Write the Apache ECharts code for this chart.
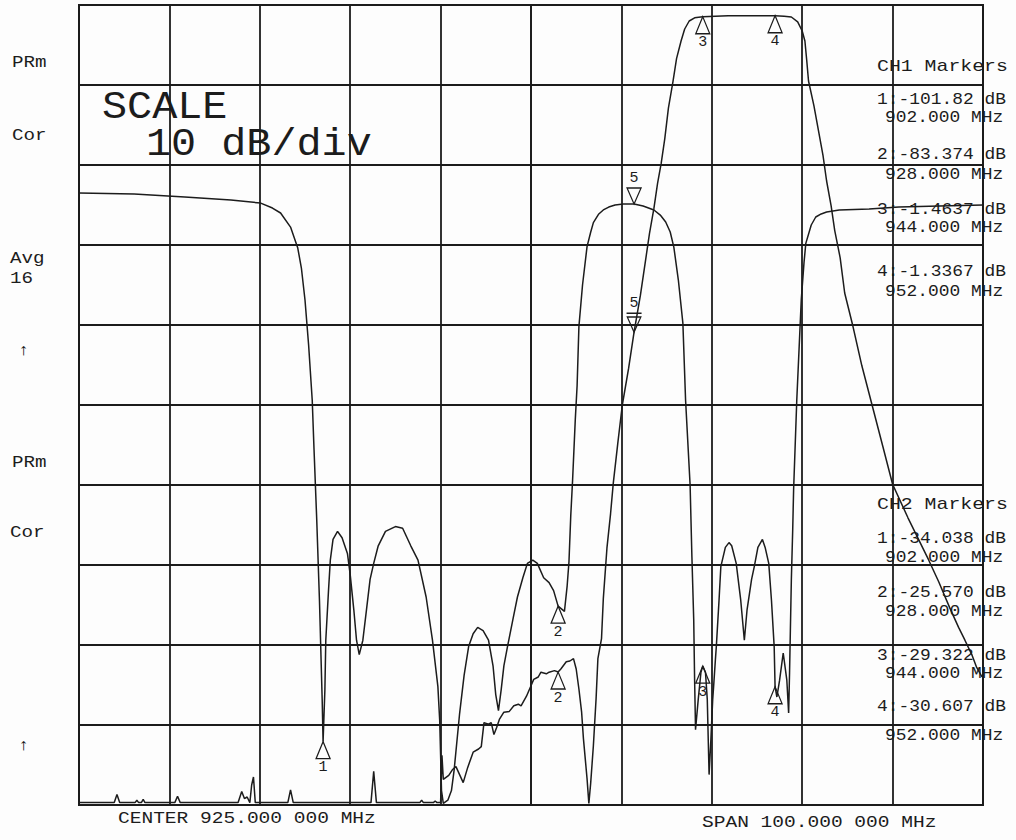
<!DOCTYPE html>
<html><head><meta charset="utf-8">
<script src="https://cdn.jsdelivr.net/npm/echarts@6/dist/echarts.min.js"></script>
<style>html,body{margin:0;padding:0;background:#fdfdfd}#c{width:1016px;height:840px}</style>
</head><body><div id="c"></div>
<script>
// Analyzer setup
const CENTER_MHZ = 925;
const SPAN_MHZ = 100;
const CH1_RANGE = [-100, 0];   // 10 dB/div, ref 0 dB at top
const CH2_RANGE = [-38, 12];   // 5 dB/div, ref -18 dB at 4th div from bottom

// CH1 trace [MHz, dB]
const ch1Trace = [
[875.0,-99.7],[878.9,-99.7],[879.2,-98.7],[879.5,-99.7],[881.2,-99.7],[881.4,-99.4],[881.6,-99.7],
[881.9,-99.7],[882.1,-99.3],[882.3,-99.7],[885.6,-99.7],[885.9,-98.9],[886.2,-99.7],
[892.6,-99.7],[893.0,-98.3],[893.3,-99.2],[893.6,-99.0],[893.9,-99.7],[894.1,-97.5],[894.3,-96.5],[894.5,-99.7],
[898.1,-99.7],[898.4,-98.1],[898.7,-99.7],[907.3,-99.7],[907.6,-95.8],[907.9,-99.7],
[912.7,-99.7],[912.9,-99.4],[913.1,-99.7],[914.2,-99.7],[914.4,-99.5],[914.6,-99.7],
[915.0,-99.7],[915.15,-93.8],[915.3,-96.8],[915.9,-96.3],[916.3,-95.6],[916.7,-95.2],[917.1,-96.2],[917.5,-97.2],
[918.0,-95.3],[918.6,-93.4],[919.2,-93.0],[919.5,-92.7],[919.8,-89.7],[920.3,-89.9],[920.6,-89.7],[920.9,-91.2],
[921.2,-90.3],[921.5,-89.3],[922.0,-88.4],[922.6,-88.3],[923.1,-87.6],[923.6,-87.4],[923.9,-87.6],[924.5,-86.4],
[925.0,-85.1],[925.3,-84.3],[925.8,-84.0],[926.1,-83.4],[926.7,-83.6],[927.0,-83.4],[927.6,-83.2],[928.0,-83.374],
[928.3,-83.0],[928.9,-82.1],[929.3,-82.0],[929.7,-81.7],[930.0,-83.0],[930.3,-85.5],[930.6,-88.4],[930.8,-91.7],
[931.2,-96.7],[931.4,-99.8],[931.6,-97.3],[931.9,-92.6],[932.2,-86.7],[932.4,-81.7],[932.8,-79.2],[933.0,-74.2],
[933.4,-67.9],[933.8,-63.6],[934.1,-59.8],[934.6,-54.8],[935.1,-50.0],[935.8,-45.4],[936.4,-40.9],[937.1,-36.3],
[937.7,-31.7],[938.1,-28.6],[938.6,-25.4],[939.0,-22.3],[939.4,-19.8],[939.8,-16.7],[940.2,-12.9],[940.7,-9.6],
[941.1,-6.7],[941.6,-4.5],[942.0,-3.0],[942.5,-2.0],[943.1,-1.6],[944.0,-1.4637],[946.8,-1.35],[950.1,-1.33],
[952.0,-1.3367],[953.0,-1.4],[953.8,-1.5],[954.5,-2.1],[955.0,-3.25],[955.3,-4.5],[955.5,-6.9],[955.7,-9.5],
[956.3,-12.6],[956.8,-15.7],[957.3,-18.8],[957.7,-22.0],[958.2,-25.1],[958.6,-28.2],[959.2,-31.6],[959.7,-36.0],
[960.6,-40.1],[961.6,-45.1],[962.75,-50.1],[963.9,-55.1],[965.0,-59.9],[966.7,-64.1],[969.0,-69.4],[970.1,-72.1],
[971.3,-75.3],[972.3,-77.8],[973.0,-79.4],[973.8,-81.3],[974.3,-82.8],[974.9,-84.0]
];

// CH2 trace [MHz, dB]
const ch2Trace = [
[875.0,0.25],[881.1,0.19],[886.7,0.0],[891.8,-0.19],[895.1,-0.38],[896.4,-0.69],[897.3,-1.0],[898.4,-1.88],
[899.2,-3.19],[899.6,-4.44],[900.0,-6.44],[900.4,-9.25],[900.8,-12.7],[901.0,-15.8],[901.3,-20.2],[901.6,-25.2],
[901.9,-31.4],[902.0,-34.038],[902.2,-30.8],[902.3,-27.7],[902.6,-24.6],[902.8,-22.7],[903.1,-21.4],[903.6,-20.9],
[904.1,-21.3],[904.7,-22.3],[905.0,-23.6],[905.4,-25.8],[905.7,-27.7],[906.0,-28.6],[906.4,-27.7],[906.8,-25.8],
[907.2,-23.9],[907.6,-22.9],[908.1,-21.8],[908.9,-20.9],[910.0,-20.6],[910.8,-20.7],[911.7,-21.8],[912.5,-22.7],
[913.4,-25.0],[914.1,-27.7],[914.7,-30.6],[914.9,-32.7],[915.1,-37.1],[915.3,-37.9],[915.8,-37.7],[916.2,-37.1],
[916.5,-35.8],[917.1,-32.3],[917.6,-29.9],[918.1,-28.1],[918.6,-27.3],[919.1,-26.9],[919.7,-27.1],[920.3,-27.7],
[920.8,-29.3],[921.1,-31.1],[921.4,-32.1],[921.7,-30.8],[922.0,-29.3],[922.4,-28.1],[923.0,-26.4],[923.5,-25.0],
[924.1,-23.8],[924.6,-22.9],[925.2,-22.7],[925.7,-22.9],[926.4,-23.8],[927.0,-24.1],[927.5,-24.6],[928.0,-25.57],
[928.7,-25.9],[929.0,-24.3],[929.2,-22.8],[929.4,-19.9],[929.6,-17.7],[929.9,-13.9],[930.1,-11.8],[930.3,-8.1],
[930.7,-5.5],[931.2,-3.1],[931.6,-2.2],[931.9,-1.6],[932.5,-1.06],[933.0,-0.81],[933.6,-0.63],[934.3,-0.5],
[935.2,-0.44],[936.4,-0.44],[937.4,-0.56],[938.6,-0.81],[939.3,-1.13],[939.9,-1.56],[940.4,-2.19],[940.8,-3.13],
[941.3,-5.19],[941.8,-7.88],[942.1,-12.7],[942.6,-18.0],[942.8,-22.5],[943.0,-26.4],[943.1,-30.2],[943.2,-33.3],
[943.5,-31.4],[943.8,-29.7],[944.0,-29.322],[944.3,-29.7],[944.5,-31.4],[944.7,-36.1],[944.9,-33.9],[945.1,-31.4],
[945.2,-30.6],[945.4,-28.9],[945.5,-28.1],[945.8,-25.2],[946.0,-23.1],[946.5,-21.9],[946.9,-21.6],[947.2,-21.8],
[947.7,-22.9],[948.2,-25.2],[948.6,-27.7],[948.9,-25.8],[949.4,-23.9],[949.7,-23.1],[950.1,-21.9],[950.6,-21.4],
[950.9,-21.9],[951.3,-22.9],[951.6,-25.2],[951.9,-28.1],[952.0,-30.607],[952.2,-31.25],[952.5,-30.2],[952.9,-28.5],
[953.3,-30.2],[953.5,-32.25],[953.6,-29.75],[953.8,-23.9],[953.95,-20.8],[954.05,-18.3],[954.4,-12.7],[954.9,-6.4],
[955.2,-4.1],[955.4,-2.9],[956.0,-1.75],[956.5,-1.25],[957.1,-1.06],[957.7,-0.94],[959.1,-0.81],[962.4,-0.75],
[965.7,-0.63],[970.2,-0.56],[975.0,-0.5]
];

// Markers
const ch1MarkerNames = ['2','3','4'];
const ch1MarkerFreq  = [928, 944, 952];
const ch1MarkerDb    = [-83.374, -1.4637, -1.3367];
const ch1Marker5     = [936.4, -40.9];
const ch2MarkerNames = ['1','2','3','4'];
const ch2MarkerFreq  = [902, 928, 944, 952];
const ch2MarkerDb    = [-34.038, -25.570, -29.322, -30.607];
const ch2Marker5     = [936.4, -0.44];

// Readout texts
const ch1Readout = ['CH1 Markers','1:-101.82 dB','902.000 MHz','2:-83.374 dB','928.000 MHz','3:-1.4637 dB','944.000 MHz','4:-1.3367 dB','952.000 MHz'];
const ch2Readout = ['CH2 Markers','1:-34.038 dB','902.000 MHz','2:-25.570 dB','928.000 MHz','3:-29.322 dB','944.000 MHz','4:-30.607 dB','952.000 MHz'];
const leftLabels = ['PRm','Cor','Avg','16','↑','PRm','Cor','↑'];
const scaleText = ['SCALE', '10 dB/div'];
const centerText = 'CENTER 925.000 000 MHz';
const spanText = 'SPAN 100.000 000 MHz';

const INK = '#1c1c1c';
const FONT = '"Liberation Mono", "DejaVu Sans Mono", monospace';
const toX = f => f - CENTER_MHZ;

function upMarkers(names, fr, db) {
  return names.map((n, i) => ({ name: n, coord: [toX(fr[i]), db[i]] }));
}
const upMarkStyle = {
  symbol: 'triangle', symbolSize: [14, 17], symbolOffset: [0, 8.5],
  itemStyle: { color: 'rgba(255,255,255,0)', borderColor: INK, borderWidth: 1.3 },
  label: { show: true, position: 'bottom', distance: 1, formatter: '{b}', color: INK, fontSize: 15, fontFamily: FONT }
};
const downTri = 'path://M0,0 L20,0 L10,22 Z';
const downTriBar = 'path://M0,0 L20,0 M1,5 L19,5 L10,25 Z';

const chart = echarts.init(document.getElementById('c'), null, { renderer: 'svg' });

const readoutY1 = [67, 100, 118, 155, 175, 210, 228, 272, 292];
const readoutY2 = [505, 539, 558, 593, 612, 656, 674, 707, 736];
const leftPos = [[12,62],[12,135],[10,258],[10,278],[18,350],[12,462],[10,532],[18,745]];

const graphics = [];
function txt(t, x, y, size, sx) {
  graphics.push({ type: 'text', x: x, y: y, scaleX: sx, scaleY: 1, silent: true,
    style: { text: t, font: size + 'px ' + FONT, fill: INK, verticalAlign: 'middle', align: 'left' } });
}
function readout(lines, ys) {
  lines.forEach((t, i) => {
    if (i === 0) txt(t, 877, ys[i], 16, 1.24);
    else txt(t, i % 2 === 0 ? 885 : 877, ys[i], 16, 1.12);
  });
}
readout(ch1Readout, readoutY1);
readout(ch2Readout, readoutY2);
leftLabels.forEach((t, i) => txt(t, leftPos[i][0], leftPos[i][1], 16, 1.2));
txt(scaleText[0], 102, 108, 38, 1.1);
txt(scaleText[1], 146, 145, 38, 1.1);
txt(centerText, 118, 818, 17, 1.15);
txt(spanText, 702, 822, 17, 1.15);

const lineAxis = { show: true, lineStyle: { color: INK, width: 1.8 } };
chart.setOption({
  animation: false,
  backgroundColor: '#fdfdfd',
  grid: { left: 79, right: 33, top: 5, bottom: 35, show: true, borderColor: INK, borderWidth: 2, backgroundColor: 'transparent' },
  xAxis: { type: 'value', min: -SPAN_MHZ / 2, max: SPAN_MHZ / 2, interval: 10,
    axisLine: lineAxis, axisTick: { show: false }, axisLabel: { show: false },
    splitLine: { show: true, lineStyle: { color: INK, width: 1.8 } } },
  yAxis: [
    { type: 'value', min: CH1_RANGE[0], max: CH1_RANGE[1], interval: 10,
      axisLine: lineAxis, axisTick: { show: false }, axisLabel: { show: false },
      splitLine: { show: true, lineStyle: { color: INK, width: 1.8 } } },
    { type: 'value', min: CH2_RANGE[0], max: CH2_RANGE[1], show: false, splitLine: { show: false } }
  ],
  series: [
    { name: 'CH1', type: 'line', yAxisIndex: 0, showSymbol: false, clip: true,
      lineStyle: { color: INK, width: 1.5 },
      data: ch1Trace.map(p => [toX(p[0]), p[1]]),
      markPoint: Object.assign({}, upMarkStyle, {
        data: upMarkers(ch1MarkerNames, ch1MarkerFreq, ch1MarkerDb).concat([
          { name: '5', coord: [toX(ch1Marker5[0]), ch1Marker5[1]], symbol: downTriBar, symbolSize: [15, 19], symbolOffset: [0, -9.5],
            label: { position: 'top', distance: 1 } }
        ]) }) },
    { name: 'CH2', type: 'line', yAxisIndex: 1, showSymbol: false, clip: true,
      lineStyle: { color: INK, width: 1.5 },
      data: ch2Trace.map(p => [toX(p[0]), p[1]]),
      markPoint: Object.assign({}, upMarkStyle, {
        data: upMarkers(ch2MarkerNames, ch2MarkerFreq, ch2MarkerDb).concat([
          { name: '5', coord: [toX(ch2Marker5[0]), ch2Marker5[1]], symbol: downTri, symbolSize: [14, 16], symbolOffset: [0, -8],
            label: { position: 'top', distance: 1 } }
        ]) }) }
  ],
  graphic: graphics
});
</script></body></html>
